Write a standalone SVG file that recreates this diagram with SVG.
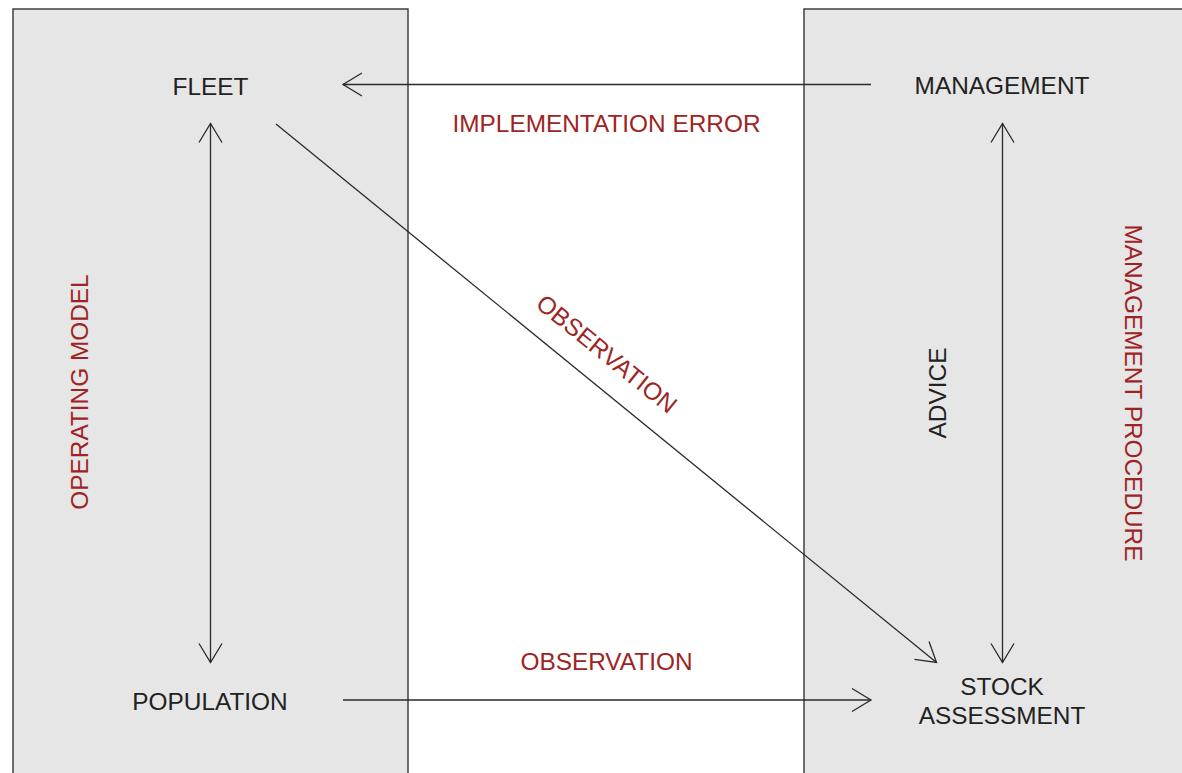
<svg xmlns="http://www.w3.org/2000/svg" width="1182" height="773" viewBox="0 0 1182 773">
<style>
.panel{fill:#e6e6e6;stroke:#404040;stroke-width:1.5}
.lbl{font-family:"Liberation Sans",Arial,sans-serif;font-size:24.4px;fill:#222;text-anchor:middle}
.red{fill:#9e2424}
.conn{stroke:#2a2a2a;stroke-width:1.3;fill:none;marker-end:url(#ah)}
.both{marker-start:url(#ah)}
</style>
<defs>
<marker id="ah" markerUnits="userSpaceOnUse" markerWidth="30" markerHeight="30" viewBox="-25 -15 30 30" refX="0" refY="0" orient="auto-start-reverse">
<path d="M-19,-11.5 L0,0 L-19,11.5" fill="none" stroke="#2a2a2a" stroke-width="1.3"/>
</marker>
</defs>
<rect width="1182" height="773" fill="#ffffff"/>
<g id="operating-model">
<rect class="panel" x="13" y="9" width="395" height="780"/>
<text class="lbl red" transform="translate(88,392) rotate(-90)">OPERATING MODEL</text>
</g>
<g id="management-procedure">
<rect class="panel" x="804" y="9" width="400" height="780"/>
<text class="lbl red" transform="translate(1125,393) rotate(90)">MANAGEMENT PROCEDURE</text>
</g>
<g id="fleet"><text class="lbl" x="210.5" y="95">FLEET</text></g>
<g id="management"><text class="lbl" x="1002" y="94">MANAGEMENT</text></g>
<g id="population"><text class="lbl" x="210" y="710">POPULATION</text></g>
<g id="stock-assessment"><text class="lbl" x="1002" y="695">STOCK</text><text class="lbl" x="1002" y="724">ASSESSMENT</text></g>
<g id="connectors">
<line class="conn" x1="871" y1="84.5" x2="343" y2="84.5"/>
<line class="conn both" x1="210.5" y1="123.5" x2="210.5" y2="662.5"/>
<line class="conn both" x1="1002.5" y1="123.5" x2="1002.5" y2="662.5"/>
<line class="conn" x1="343" y1="700" x2="871" y2="700"/>
<line class="conn" x1="276" y1="124" x2="936.5" y2="662.5"/>
<text class="lbl red" x="606.5" y="132">IMPLEMENTATION ERROR</text>
<text class="lbl red" x="606.5" y="670">OBSERVATION</text>
<text class="lbl red" transform="translate(601.5,360.5) rotate(39)" x="0" y="0">OBSERVATION</text>
<text class="lbl" transform="translate(946,393) rotate(-90)">ADVICE</text>
</g>
</svg>
